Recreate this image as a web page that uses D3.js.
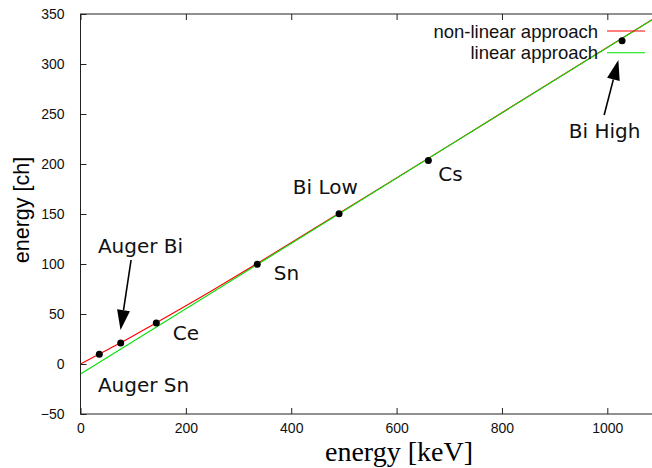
<!DOCTYPE html>
<html>
<head>
<meta charset="utf-8">
<script src="https://cdn.jsdelivr.net/npm/d3@7"></script>
<style>
  body { margin: 0; background: #fff; }
  svg { display: block; }
</style>
</head>
<body>
<div id="chart"></div>
<script>
// measured calibration points (keV, channel)
var pointEnergy = [35.7, 76.3, 143.9, 335.5, 490.8, 660.3, 1028];
var pointChannel = [9.7, 21, 41, 99.7, 150.3, 203.5, 323.3];

// non-linear fit
var nonLinearEnergy = [0, 35.7, 76.3, 143.9, 250, 335.5, 490.8, 700, 1100];
var nonLinearChannel = [0, 10, 21.2, 41.3, 73.5, 100.5, 150.8, 218.6, 349.3];

// linear fit, its two ends
var linearEnergy = [0, 1100];
var linearChannel = [-10, 349];

var xTicks = [0, 200, 400, 600, 800, 1000];
var yTicks = [-50, 0, 50, 100, 150, 200, 250, 300, 350];

var labelText = ["Auger Bi", "Auger Sn", "Ce", "Sn", "Bi Low", "Cs", "Bi High"];
var labelEnergy = [33, 33, 175, 367, 403, 679, 927];
var labelChannel = [111, -28, 24, 84, 170, 183, 226];

// arrows: tail -> head
var arrowFromE = [96, 994];
var arrowFromC = [104, 249];
var arrowToE = [76, 1021];
var arrowToC = [34, 304];

var legendNames = ["non-linear approach", "linear approach"];
var legendColors = ["#ff0000", "#00e000"];

var width = 652, height = 468;

var svg = d3.select("#chart").append("svg")
            .attr("width", width)
            .attr("height", height);

var x = d3.scaleLinear().domain([0, 1100]).range([80.5, 660]);
var y = d3.scaleLinear().domain([-50, 350]).range([414, 14]);

var axisColor = "#222";

// frame
svg.append("rect")
   .attr("x", x(0)).attr("y", y(350))
   .attr("width", x(1100) - x(0)).attr("height", y(-50) - y(350))
   .attr("fill", "none").attr("stroke", axisColor).attr("stroke-width", 1);

// ticks, inward (bottom + mirrored top, left)
svg.append("g")
   .attr("transform", "translate(0," + y(-50) + ")")
   .call(d3.axisBottom(x).tickValues(xTicks).tickFormat(d3.format("d"))
           .tickSizeInner(-6).tickSizeOuter(0))
   .call(function(g) {
     g.select(".domain").remove();
     g.selectAll("line").attr("stroke", axisColor);
     g.selectAll("text").attr("dy", null).attr("y", 18.5)
      .style("font-family", "'Liberation Sans', Arial, sans-serif")
      .style("font-size", "14px").attr("fill", "#111");
   });

svg.append("g")
   .attr("transform", "translate(0," + y(350) + ")")
   .call(d3.axisTop(x).tickValues(xTicks).tickSizeInner(-6).tickSizeOuter(0).tickFormat(""))
   .call(function(g) {
     g.select(".domain").remove();
     g.selectAll("line").attr("stroke", axisColor);
   });

svg.append("g")
   .attr("transform", "translate(" + x(0) + ",0)")
   .call(d3.axisLeft(y).tickValues(yTicks).tickSizeInner(-6).tickSizeOuter(0).tickPadding(16))
   .call(function(g) {
     g.select(".domain").remove();
     g.selectAll("line").attr("stroke", axisColor);
     g.selectAll("text")
      .style("font-family", "'Liberation Sans', Arial, sans-serif")
      .style("font-size", "14px").attr("fill", "#111");
   });

// axis titles
svg.append("text")
   .attr("transform", "translate(29,210) rotate(-90)")
   .attr("text-anchor", "middle")
   .style("font-family", "'Liberation Sans', Arial, sans-serif")
   .style("font-size", "21.5px")
   .text("energy [ch]");

svg.append("text")
   .attr("x", 399).attr("y", 461)
   .attr("text-anchor", "middle")
   .style("font-family", "'Liberation Serif', serif")
   .style("font-size", "28px")
   .text("energy [keV]");

// fits
svg.append("clipPath").attr("id", "plotclip")
   .append("rect").attr("x", x(0)).attr("y", y(350))
   .attr("width", x(1100) - x(0)).attr("height", y(-50) - y(350));

var line = d3.line()
             .x(function(d) { return x(d[0]); })
             .y(function(d) { return y(d[1]); })
             .curve(d3.curveMonotoneX);

var plot = svg.append("g").attr("clip-path", "url(#plotclip)");

plot.append("path")
    .datum(d3.zip(nonLinearEnergy, nonLinearChannel))
    .attr("d", line)
    .attr("fill", "none").attr("stroke", legendColors[0]).attr("stroke-width", 1.1);

plot.append("path")
    .datum(d3.zip(linearEnergy, linearChannel))
    .attr("d", line)
    .attr("fill", "none").attr("stroke", legendColors[1]).attr("stroke-width", 1.1);

plot.selectAll("circle")
    .data(d3.zip(pointEnergy, pointChannel))
    .enter()
    .append("circle")
    .attr("cx", function(d) { return x(d[0]); })
    .attr("cy", function(d) { return y(d[1]); })
    .attr("r", 3.5)
    .attr("fill", "#000");

// annotation labels
svg.selectAll("text.label")
   .data(labelText)
   .enter()
   .append("text")
   .attr("class", "label")
   .attr("x", function(d, i) { return x(labelEnergy[i]); })
   .attr("y", function(d, i) { return y(labelChannel[i]); })
   .style("font-family", "'DejaVu Sans', sans-serif")
   .style("font-size", "20px")
   .attr("fill", "#111")
   .text(function(d) { return d; });

// arrows
arrowFromE.forEach(function(e, i) {
  var x1 = x(e), y1 = y(arrowFromC[i]);
  var x2 = x(arrowToE[i]), y2 = y(arrowToC[i]);
  var ang = Math.atan2(y2 - y1, x2 - x1);
  var len = 20, half = 6.5;
  var bx = x2 - len * Math.cos(ang), by = y2 - len * Math.sin(ang);
  var px = -Math.sin(ang) * half, py = Math.cos(ang) * half;
  svg.append("line")
     .attr("x1", x1).attr("y1", y1).attr("x2", bx).attr("y2", by)
     .attr("stroke", "#000").attr("stroke-width", 1.6);
  svg.append("polygon")
     .attr("points", [[x2, y2], [bx + px, by + py], [bx - px, by - py]].map(function(p) { return p.join(","); }).join(" "))
     .attr("fill", "#000");
});

// legend
var legend = svg.selectAll("g.legend")
   .data(legendNames)
   .enter()
   .append("g")
   .attr("class", "legend")
   .attr("transform", function(d, i) { return "translate(0," + (31 + i * 21.7) + ")"; });

legend.append("text")
   .attr("x", 598).attr("y", 6.5)
   .attr("text-anchor", "end")
   .style("font-family", "'Liberation Sans', Arial, sans-serif")
   .style("font-size", "18.5px")
   .attr("fill", "#111")
   .text(function(d) { return d; });

legend.append("line")
   .attr("x1", 607).attr("x2", 645)
   .attr("y1", 0).attr("y2", 0)
   .attr("stroke", function(d, i) { return legendColors[i]; })
   .attr("stroke-width", 1.1);
</script>
</body>
</html>
